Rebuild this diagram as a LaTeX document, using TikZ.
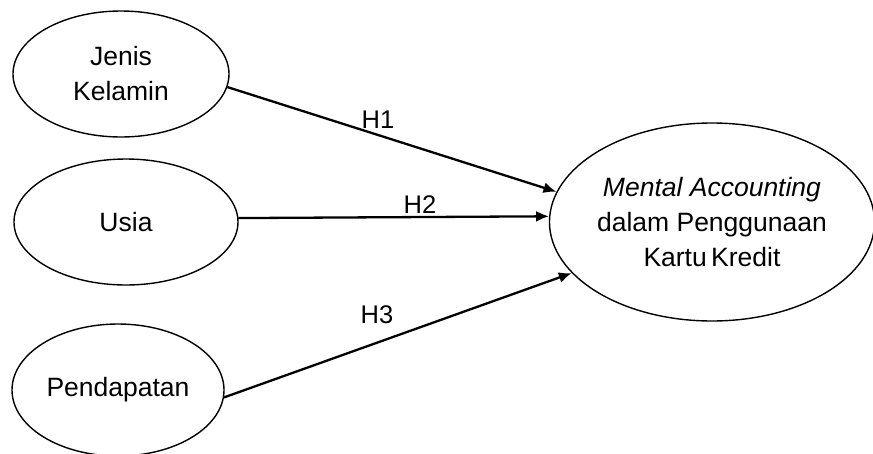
\documentclass[tikz,border=0pt]{standalone}
\usepackage{fontspec}
\setmainfont{Liberation Sans}
\usetikzlibrary{shapes.geometric,arrows.meta}
\begin{document}
\begin{tikzpicture}[x=1pt,y=-1pt,
  var/.style={draw,ellipse,line width=1.4pt,inner sep=0pt,align=center,
    font=\fontsize{26.5}{35}\selectfont},
  hyp/.style={line width=2.3pt,-{Latex[length=13pt,width=11pt]}},
  lab/.style={font=\fontsize{25.5}{30}\selectfont,inner sep=0pt}]
\useasboundingbox (0,0) rectangle (873,453);
\node[var,minimum width=216pt,minimum height=126pt] (jk) at (121,74) {Jenis\\Kelamin};
\node[var,minimum width=224pt,minimum height=126pt] (us) at (126,222) {Usia};
\node[var,minimum width=212pt,minimum height=132pt] (pd) at (118,390) {Pendapatan};
\node[var,minimum width=318pt,minimum height=198pt] (mk) at (712,222)
  {\textit{Mental Accounting}\\dalam Penggunaan\\Kartu\,Kredit};
\draw[hyp] (jk.-7.6) -- (mk.169.3);
\draw[hyp] (us.2.6) -- (mk.178);
\draw[hyp] (pd.-4.9) -- (mk.200);
\node[lab] (h1) at (378,120) {H1};
\node[lab] (h2) at (420,205) {H2};
\node[lab] (h3) at (377,315) {H3};
\end{tikzpicture}
\end{document}
